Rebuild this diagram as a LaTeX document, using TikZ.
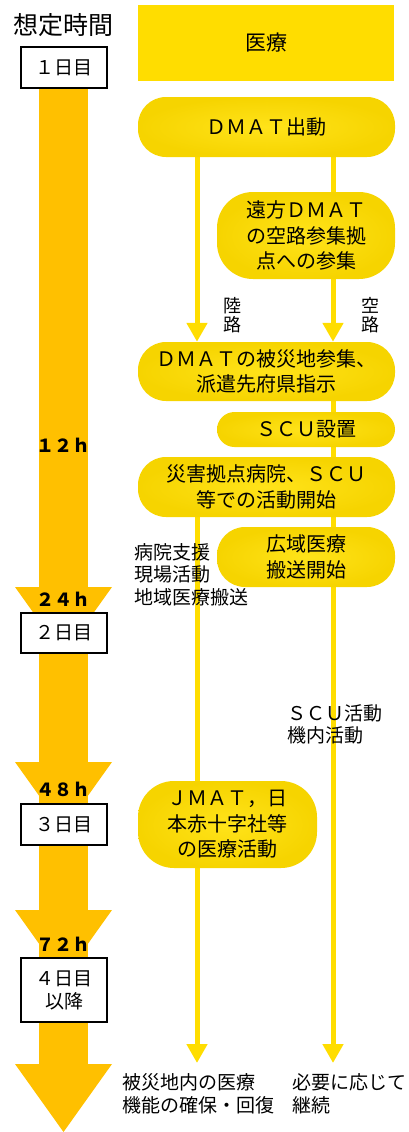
\documentclass[tikz,border=0pt]{standalone}
\usepackage{fontspec}
\setmainfont{Noto Sans CJK JP}
\usetikzlibrary{arrows.meta,backgrounds}
\definecolor{kiiro}{HTML}{FFDD00}
\definecolor{kiirousu}{HTML}{FFE31A}
\definecolor{kiirokoi}{HTML}{F6D400}
\definecolor{daidai}{HTML}{FFC000}

\begin{document}
\begin{tikzpicture}[x=1pt,y=-1pt,
  pill/.style={shading=radial,inner color=kiirousu,outer color=kiirokoi,rounded corners=28pt,
    align=center,inner sep=0pt,font=\fontsize{20}{25.5}\selectfont},
  hibox/.style={draw,line width=1.2pt,fill=white,inner sep=0pt,align=center,
    minimum width=86pt,font=\fontsize{19}{23}\selectfont},
  jikan/.style={font=\fontsize{18}{20}\selectfont\bfseries},
  sen/.style={kiiro,line width=5pt},
  ya/.style={sen,-{Triangle[width=20pt,length=19pt]}},
  michi/.style={align=center,inner sep=0pt,font=\fontsize{18}{18.5}\selectfont},
  setsumei/.style={align=left,anchor=west,inner sep=0pt,font=\fontsize{19}{22.5}\selectfont}]

\useasboundingbox (0,0) rectangle (408,1132);

\node[font=\fontsize{25}{25}\selectfont] (sotei) at (63,25) {想定時間};

\fill[daidai] (39,88) rectangle (88,1064);
\foreach \y in {587,762,910,1064}
  \fill[daidai] (15,\y) -- (112,\y) -- (63.5,\y+68) -- cycle;

\node[hibox,minimum height=41pt] (hi1) at (64,67.5) {１日目};
\node[hibox,minimum height=40pt] (hi2) at (64,633) {２日目};
\node[hibox,minimum height=41pt] (hi3) at (64,824.5) {３日目};
\node[hibox,minimum height=64pt] (hi4) at (64,990) {４日目\\以降};

\node[jikan] (h12) at (63,445) {１２ｈ};
\node[jikan] (h24) at (63,599) {２４ｈ};
\node[jikan] (h48) at (63,789) {４８ｈ};
\node[jikan] (h72) at (63,944) {７２ｈ};

\node[fill=kiiro,minimum width=256pt,minimum height=76pt,font=\fontsize{21}{21}\selectfont] (iryo) at (266,43) {医療};

\node[pill,minimum width=257pt,minimum height=60pt] (d1) at (266.5,127) {ＤＭＡＴ出動};
\node[pill,minimum width=178pt,minimum height=87pt,rounded corners=36pt] (d2) at (306,235.5) {遠方ＤＭＡＴ\\の空路参集拠\\点への参集};
\node[pill,minimum width=257pt,minimum height=59pt] (d3) at (266.5,371.5) {ＤＭＡＴの被災地参集、\\派遣先府県指示};
\node[pill,minimum width=178pt,minimum height=35pt,rounded corners=17.5pt] (d4) at (306,429.5) {ＳＣＵ設置};
\node[pill,minimum width=257pt,minimum height=60pt] (d5) at (266.5,487) {災害拠点病院、ＳＣＵ\\等での活動開始};
\node[pill,minimum width=178pt,minimum height=60pt] (d6) at (306,557) {広域医療\\搬送開始};
\node[pill,minimum width=179pt,minimum height=87pt,rounded corners=36pt] (d7) at (227.5,824.5) {ＪＭＡＴ，日\\本赤十字社等\\の医療活動};

\coordinate (L) at (197,0);
\coordinate (R) at (333,0);
\coordinate (owariL) at (197,1063);
\coordinate (owariR) at (333,1063);

\begin{scope}[on background layer]
\draw[ya] (d1.south -| L) -- (d3.north -| L);
\draw[sen] (d1.south -| R) -- (d2.north -| R);
\draw[ya] (d2.south -| R) -- (d3.north -| R);
\draw[ya] (d3.south -| R) -- (owariR);
\draw[ya] (d5.south -| L) -- (owariL);
\end{scope}

\node[michi] (riku) at (232,315) {陸\\路};
\node[michi] (sora) at (370,315) {空\\路};

\node[setsumei] (byoin) at (134,574.5) {病院支援\\現場活動\\地域医療搬送};
\node[setsumei] (scu) at (287,724.5) {ＳＣＵ活動\\機内活動};
\node[setsumei] (kakuho) at (122,1094) {被災地内の医療\\機能の確保・回復};
\node[setsumei] (keizoku) at (292,1094) {必要に応じて\\継続};
\end{tikzpicture}
\end{document}
